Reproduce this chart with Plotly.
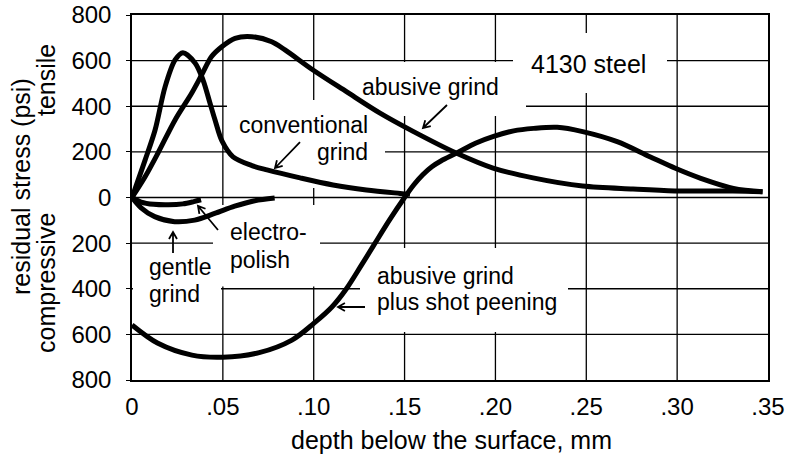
import math
import plotly.graph_objects as go

# ---------------- data ----------------
x_ticks = [0, 0.05, 0.10, 0.15, 0.20, 0.25, 0.30, 0.35]
x_tick_labels = ["0", ".05", ".10", ".15", ".20", ".25", ".30", ".35"]
y_ticks = [-800, -600, -400, -200, 0, 200, 400, 600, 800]
y_tick_labels = ["800", "600", "400", "200", "0", "200", "400", "600", "800"]

conv_x = [0, 0.0072, 0.0127, 0.0182, 0.0237, 0.028, 0.0347, 0.0391, 0.0429,
          0.0457, 0.0495, 0.0556, 0.066, 0.0743, 0.0925, 0.1106, 0.129, 0.1475, 0.153]
conv_y = [0, 164, 296, 485, 603, 635, 590, 515, 414,
          340, 248, 178, 140, 121, 86, 55, 33, 18, 14]

abusive_x = [0, 0.0072, 0.0143, 0.0237, 0.0329, 0.0383, 0.0438, 0.0494, 0.0567,
             0.0659, 0.0769, 0.0842, 0.0996, 0.118, 0.1365, 0.1547, 0.1787,
             0.1987, 0.2207, 0.248, 0.2757, 0.2988, 0.3307, 0.347]
abusive_y = [0, 91, 195, 340, 458, 537, 618, 661, 698,
             705, 683, 647, 559, 464, 370, 290, 194,
             129, 86, 50, 37, 29, 28, 25]

peen_x = [0, 0.014, 0.033, 0.05, 0.07, 0.088, 0.10, 0.11, 0.118, 0.126, 0.133,
          0.142, 0.15, 0.155, 0.16, 0.165, 0.17, 0.179, 0.189, 0.199, 0.21,
          0.221, 0.234, 0.248, 0.267, 0.285, 0.299, 0.313, 0.331, 0.347]
peen_y = [-559, -638, -691, -700, -680, -625, -552, -480, -400, -300, -210,
          -95, 0, 55, 100, 135, 160, 196, 238, 268, 292,
          303, 308, 289, 245, 179, 128, 84, 40, 25]

gentle_x = [0, 0.005, 0.0125, 0.0235, 0.0345, 0.0455, 0.0565, 0.0675, 0.0785]
gentle_y = [0, -45, -84, -106, -99, -70, -38, -14, -2]

electro_x = [0, 0.005, 0.012, 0.02, 0.028, 0.034, 0.038]
electro_y = [0, -20, -30, -32, -28, -18, -10]

# ---------------- layout helpers ----------------
W, H = 789, 460
L, R, T, B = 132, 768, 15, 380
FONT = "Liberation Sans, Arial, Helvetica, sans-serif"


def pp(px, py):
    """pixel -> paper coordinates"""
    return (px - L) / (R - L), (B - py) / (B - T)


fig = go.Figure()
for xs, ys in [(conv_x, conv_y), (abusive_x, abusive_y), (peen_x, peen_y),
               (gentle_x, gentle_y), (electro_x, electro_y)]:
    fig.add_trace(go.Scatter(
        x=xs, y=ys, mode="lines",
        line=dict(color="black", width=5, shape="spline", smoothing=0.9),
        showlegend=False, hoverinfo="skip"))

shapes = []
# grid lines (drawn as shapes so label boxes can interrupt them)
for xv in x_ticks[1:-1]:
    shapes.append(dict(type="line", xref="x", yref="paper", x0=xv, x1=xv, y0=0, y1=1,
                       layer="below", line=dict(color="black", width=1.3)))
for yv in y_ticks[1:-1]:
    shapes.append(dict(type="line", xref="paper", yref="y", x0=0, x1=1, y0=yv, y1=yv,
                       layer="below", line=dict(color="black", width=1.3)))

# white boxes behind the labels (hide grid lines, stay under curves)
for x0, y0, x1, y1 in [(513, 33, 667, 93), (340, 62, 526, 116),
                       (227, 100, 385, 188), (213, 205, 320, 286.5),
                       (133, 248, 221, 312), (360, 248, 568, 332)]:
    a0, b0 = pp(x0, y1)
    a1, b1 = pp(x1, y0)
    shapes.append(dict(type="rect", xref="paper", yref="paper",
                       x0=a0, y0=b0, x1=a1, y1=b1, layer="below",
                       fillcolor="white", line=dict(width=0)))


def arrow(tx, ty, hx, hy, size=8, ang=30):
    d = math.atan2(ty - hy, tx - hx)
    pts = []
    for s in (1, -1):
        a = d + s * math.radians(ang)
        pts.append((hx + size * math.cos(a), hy + size * math.sin(a)))

    def f(p):
        a, b = pp(*p)
        return f"{a:.5f},{b:.5f}"
    path = (f"M{f((tx, ty))} L{f((hx, hy))} M{f(pts[0])} L{f((hx, hy))} L{f(pts[1])}")
    return dict(type="path", xref="paper", yref="paper", path=path,
                line=dict(color="black", width=1.8), layer="above")


for a in [(447, 105, 423, 128), (300, 142, 275, 168), (218, 230, 198, 206),
          (173, 253, 173, 232), (365, 307, 338, 307)]:
    shapes.append(arrow(*a))

annotations = []


def label(text, px, py, xanchor="center", size=23, angle=0):
    x, y = pp(px, py)
    annotations.append(dict(text=text, x=x, y=y, xref="paper", yref="paper",
                            xanchor=xanchor, yanchor="middle", showarrow=False,
                            textangle=angle,
                            font=dict(family=FONT, size=size, color="black")))


label("4130 steel", 588, 64, size=25)
label("abusive grind", 430, 87)
label("conventional", 370, 125, xanchor="right")
label("grind", 370, 152, xanchor="right")
label("electro-", 228, 232, xanchor="left")
label("polish", 228, 260, xanchor="left")
label("gentle", 147, 267, xanchor="left")
label("grind", 147, 294, xanchor="left")
label("abusive grind", 375, 276, xanchor="left")
label("plus shot peening", 375, 302, xanchor="left")
label("residual stress (psi)", 21, 187, size=25, angle=-90)
label("tensile", 46, 80, size=25, angle=-90)
label("compressive", 46, 283, size=25, angle=-90)
label("depth below the surface, mm", 451, 440, size=25)

axis_common = dict(showgrid=False, showline=True, mirror=True, linecolor="black",
                   linewidth=1.5, zeroline=False, automargin=False,
                   tickfont=dict(family=FONT, size=24, color="black"))

fig.update_layout(
    width=W, height=H,
    margin=dict(l=L, r=W - R, t=T, b=H - B),
    paper_bgcolor="white", plot_bgcolor="white",
    font=dict(family=FONT, color="black"),
    xaxis=dict(range=[0, 0.35], tickmode="array", tickvals=x_ticks,
               ticktext=x_tick_labels, ticks="", ticklabelstandoff=4, **axis_common),
    yaxis=dict(range=[-800, 800], tickmode="array", tickvals=y_ticks,
               ticktext=y_tick_labels, ticks="outside", ticklen=4,
               tickcolor="black", ticklabelstandoff=10, **axis_common),
    shapes=shapes,
    annotations=annotations,
)

fig.write_html("out.html", config={"displayModeBar": False},
               post_script="document.body.style.margin='0';")
